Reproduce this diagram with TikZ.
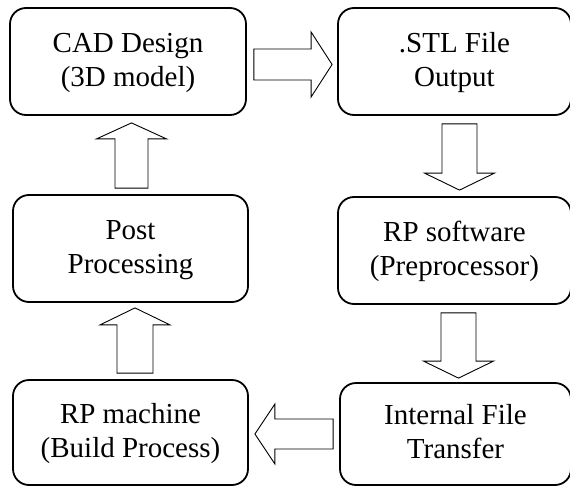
\documentclass[tikz,border=0pt]{standalone}
\usepackage{fontspec}
\setmainfont{Liberation Serif}
\usetikzlibrary{calc}
\tikzset{
  stepbox/.style={draw=black, line width=1.8pt, rounded corners=16pt, align=center,
    font=\fontsize{29pt}{34pt}\selectfont, text height=56pt, text depth=7pt, inner sep=0pt},
  arrowline/.style={draw=black, line width=0.9pt, line join=miter, fill=white}
}
% #1 start, #2 tip, #3 shaft half width, #4 head half width, #5 head length
\newcommand\blockarrow[5]{%
  \draw[arrowline] let \p1=(#1), \p2=(#2),
      \n1={atan2(\y2-\y1,\x2-\x1)}, \n2={veclen(\x2-\x1,\y2-\y1)} in
    [shift={(\p1)}, rotate=\n1]
    (0pt,-#3pt) -- ({\n2-#5pt},-#3pt) -- ({\n2-#5pt},-#4pt) -- (\n2,0pt)
    -- ({\n2-#5pt},#4pt) -- ({\n2-#5pt},#3pt) -- (0pt,#3pt) -- cycle;}
\begin{document}
\begin{tikzpicture}[x=1pt,y=-1pt]
\useasboundingbox (0,0) rectangle (570,487);
\node[stepbox, minimum width=236pt, minimum height=107pt] (cad) at (128,61.5) {CAD Design\\(3D model)};
\node[stepbox, minimum width=233pt, minimum height=107pt] (stl) at (454.5,61.5) {.STL File\\Output};
\node[stepbox, minimum width=235pt, minimum height=107pt] (post) at (130.5,248.5) {Post\\Processing};
\node[stepbox, minimum width=233pt, minimum height=107pt] (rpsw) at (454.5,250.5) {RP software\\(Preprocessor)};
\node[stepbox, minimum width=235pt, minimum height=105pt] (rpm) at (130.5,432.5) {RP machine\\(Build Process)};
\node[stepbox, minimum width=231pt, minimum height=102pt] (ift) at (455.5,434) {Internal File\\Transfer};

\blockarrow{$(cad.east)+(7,3)$}{$(stl.west)+(-5,3)$}{15.5}{32.5}{21}
\blockarrow{$(stl.south)+(5,8)$}{$(rpsw.north)+(5,-6)$}{17.5}{35}{17}
\blockarrow{$(rpsw.south)+(4,8)$}{$(ift.north)+(3,-4)$}{17.5}{35}{17}
\blockarrow{$(ift.west)+(-6,0)$}{$(rpm.east)+(6,1.5)$}{15}{30}{20}
\blockarrow{$(rpm.north)+(4.5,-6)$}{$(post.south)+(4.5,5)$}{18}{35}{17}
\blockarrow{$(post.north)+(1,-6)$}{$(cad.south)+(3.5,7)$}{16.5}{35}{16}
\end{tikzpicture}
\end{document}
